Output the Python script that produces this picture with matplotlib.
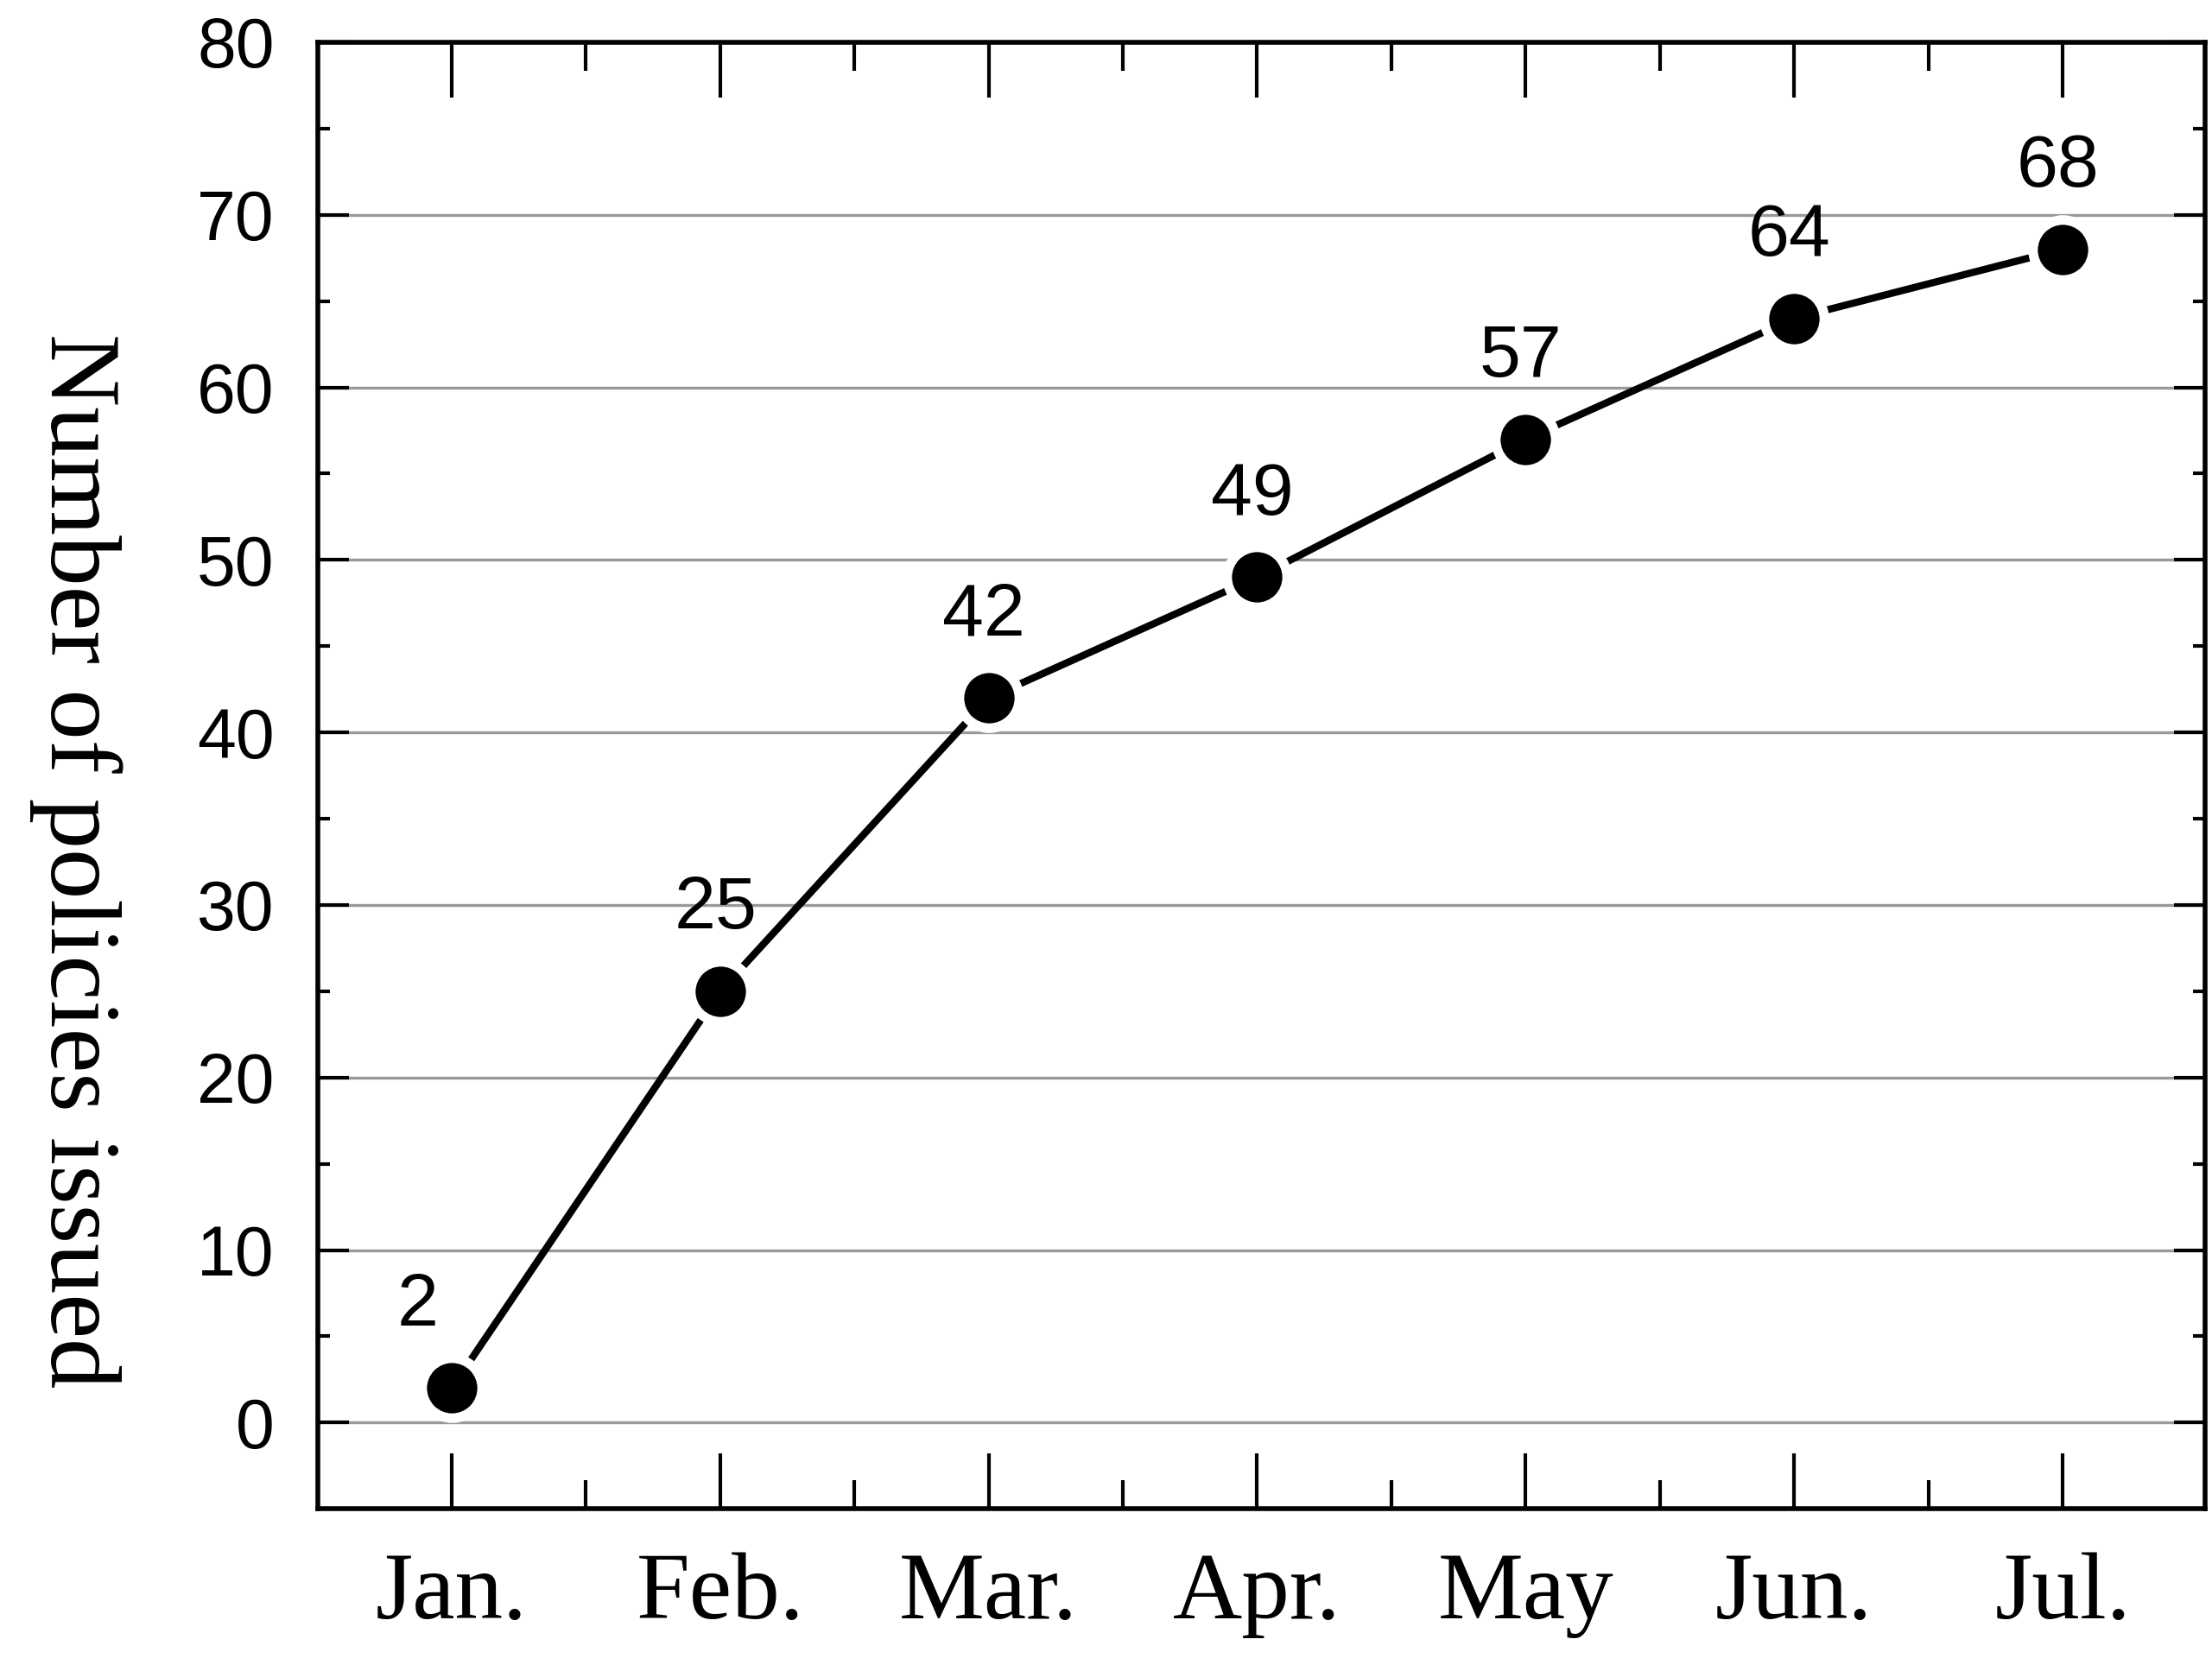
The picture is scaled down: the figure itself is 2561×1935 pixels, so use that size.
import matplotlib.pyplot as plt
from matplotlib.ticker import MultipleLocator

months = ["Jan.", "Feb.", "Mar.", "Apr.", "May", "Jun.", "Jul."]
policies = [2, 25, 42, 49, 57, 64, 68]

narrow = ["Liberation Sans Narrow", "Liberation Sans", "DejaVu Sans"]
serif = ["Liberation Serif", "DejaVu Serif"]

fig = plt.figure(figsize=(25.61, 19.35), dpi=100)
ax = fig.add_axes([0.1435, 0.097, 0.8533, 0.8777])

x = list(range(len(months)))
ax.plot(x, policies, color="black", lw=6, marker="o", ms=50,
        mfc="black", mec="white", mew=8, zorder=3)

for xi, v in zip(x, policies):
    dx = -28 if xi == 0 else -4
    ax.annotate(str(v), (xi, v), xytext=(dx, 68), textcoords="offset points",
                ha="center", va="center", fontsize=62, family=narrow)

ax.set_xlim(-0.5, 6.53)
ax.set_ylim(-5, 80)
ax.set_xticks(x)
ax.set_xticklabels(months, family=serif, fontsize=80)
ax.set_xticks([i + 0.5 for i in x[:-1]], minor=True)
ax.yaxis.set_major_locator(MultipleLocator(10))
ax.yaxis.set_minor_locator(MultipleLocator(5))
for lab in ax.get_yticklabels():
    lab.set_family(narrow)
    lab.set_fontsize(58)

ax.tick_params(which="both", direction="in", top=True, right=True, width=3, color="black")
ax.tick_params(axis="x", which="major", length=46, pad=36)
ax.tick_params(axis="x", which="minor", length=24)
ax.tick_params(axis="y", which="major", length=26, pad=36)
ax.tick_params(axis="y", which="minor", length=10)

ax.grid(axis="y", which="major", color="#999999", lw=2.4)
ax.set_axisbelow(True)
for s in ax.spines.values():
    s.set_linewidth(4)

ax.set_ylabel("Number of policies issued", family=serif, fontsize=84,
              rotation=270, va="center")
ax.yaxis.set_label_coords(-0.128, 0.442)

fig.savefig("out.png", dpi=100)
